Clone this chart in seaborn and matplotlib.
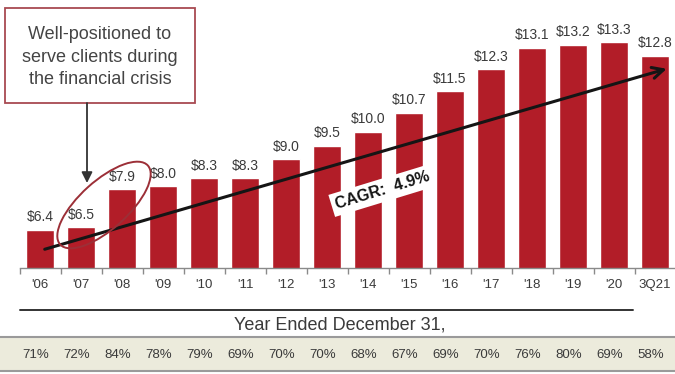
import matplotlib
matplotlib.use("Agg")
import matplotlib.pyplot as plt
import matplotlib.transforms as mtransforms
from matplotlib.patches import Ellipse, FancyArrowPatch, Rectangle
import seaborn as sns
import pandas as pd

# Annual values ($) and margin row
years = ["'06", "'07", "'08", "'09", "'10", "'11", "'12", "'13",
         "'14", "'15", "'16", "'17", "'18", "'19", "'20", "3Q21"]
values = [6.4, 6.5, 7.9, 8.0, 8.3, 8.3, 9.0, 9.5,
          10.0, 10.7, 11.5, 12.3, 13.1, 13.2, 13.3, 12.8]
margins = ["71%", "72%", "84%", "78%", "79%", "69%", "70%", "70%",
           "68%", "67%", "69%", "70%", "76%", "80%", "69%", "58%"]
cagr_label = "CAGR:  4.9%"
callout = "Well-positioned to\nserve clients during\nthe financial crisis"
axis_caption = "Year Ended December 31,"

sns.set_theme(style="white")
plt.rcParams["font.family"] = ["Liberation Sans", "DejaVu Sans"]

BAR = "#b21d28"
TXT = "#3a3a3a"

W, H = 675, 374
fig = plt.figure(figsize=(W / 100, H / 100), dpi=100)

# Main bar axes
ax = fig.add_axes([19.5 / W, 1 - 268 / H, 656 / W, 268 / H])
df = pd.DataFrame({"year": years, "value": values})
sns.barplot(data=df, x="year", y="value", color=BAR, width=0.68,
            saturation=1, ax=ax, zorder=2)
ax.set_xlim(-0.5, len(years) - 0.5)
ax.set_ylim(5, 14.85)
ax.set_xlabel("")
ax.set_ylabel("")
ax.set_yticks([])
for s in ["top", "right", "left"]:
    ax.spines[s].set_visible(False)
ax.spines["bottom"].set_color("#8a8a8a")
ax.spines["bottom"].set_linewidth(1.0)
ax.set_xticks(range(len(years)))
ax.set_xticklabels(years, fontsize=9.5, color=TXT)
ax.tick_params(axis="x", which="major", length=0, pad=8)
ax.set_xticks([i - 0.5 for i in range(len(years))], minor=True)
ax.tick_params(axis="x", which="minor", bottom=True, length=4,
               width=1.0, color="#8a8a8a", direction="out")

for i, v in enumerate(values):
    ax.annotate(f"${v:.1f}", (i, v), xytext=(0, 4), textcoords="offset points",
                ha="center", va="bottom", fontsize=10, color=TXT)

# Trend arrow across the bars
trend = FancyArrowPatch((0.05, 5.66), (15.35, 12.35), arrowstyle="->",
                        mutation_scale=20, lw=2.2, color="#151515", zorder=4)
ax.add_patch(trend)
ax.text(8.35, 7.85, cagr_label, rotation=17, ha="center", va="center",
        fontsize=11.5, fontweight="bold", color="#151515", zorder=5,
        rotation_mode="anchor",
        bbox=dict(boxstyle="square,pad=0.25", fc="white", ec="none"))

# Overlay in pixel units for callouts
ov = fig.add_axes([0, 0, 1, 1], facecolor="none")
ov.set_xlim(0, W)
ov.set_ylim(H, 0)
ov.axis("off")

ov.add_patch(Rectangle((5, 8), 190, 95, fc="white", ec="#a84a52", lw=1.3))
ov.text(100, 57, callout, ha="center", va="center", fontsize=13,
        color="#444444", linespacing=1.4)
ov.annotate("", xy=(87, 183), xytext=(87, 103),
            arrowprops=dict(arrowstyle="-|>", color="#333333", lw=1.3,
                            mutation_scale=16, shrinkA=0, shrinkB=0))
ov.add_patch(Ellipse((104, 205), 118, 48, angle=-42, fc="none",
                     ec="#9c2f37", lw=1.4))

# Caption line and text
ov.plot([20, 633], [310, 310], color="#333333", lw=1.4)
ov.text(340, 325, axis_caption, ha="center", va="center", fontsize=13,
        color=TXT)

# Margin strip
strip = fig.add_axes([0, 1 - 371 / H, 1, 34 / H], facecolor="#ecebdc")
strip.set_xticks([])
strip.set_yticks([])
for s in ["left", "right"]:
    strip.spines[s].set_visible(False)
for s in ["top", "bottom"]:
    strip.spines[s].set_color("#9a9a9a")
    strip.spines[s].set_linewidth(1.5)
tr = mtransforms.blended_transform_factory(ax.transData, strip.transAxes)
for i, m in enumerate(margins):
    strip.text(i - 0.1, 0.48, m, transform=tr, ha="center", va="center",
               fontsize=9.5, color=TXT)

fig.savefig("out.png", dpi=100)
